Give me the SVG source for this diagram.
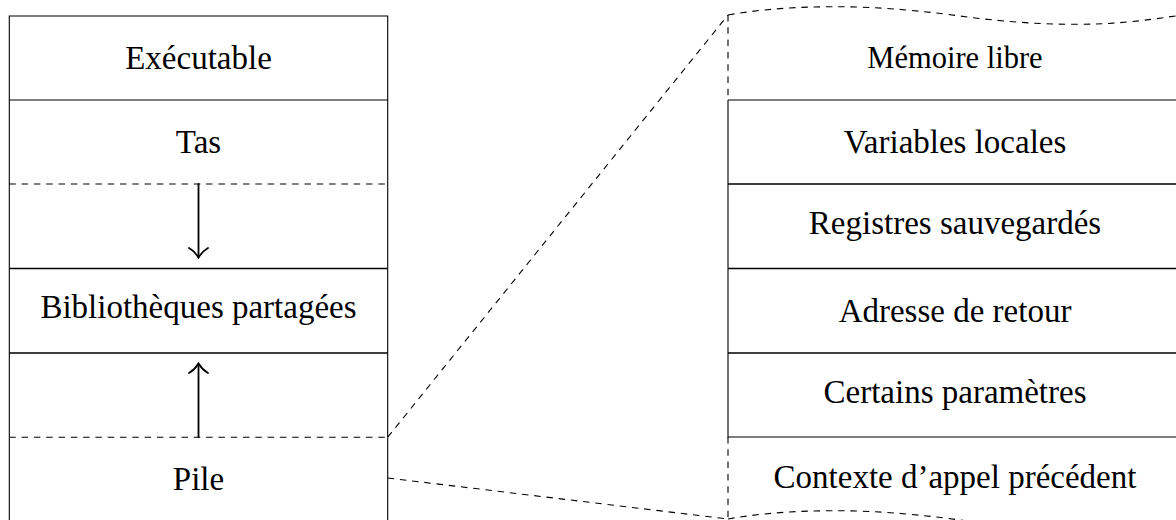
<svg xmlns="http://www.w3.org/2000/svg" width="1176" height="520" viewBox="0 0 1176 520">
<style>
.ln{stroke:#000;stroke-width:1.1;fill:none}
.th{stroke:#000;stroke-width:1.6;fill:none}
.da{stroke:#000;stroke-width:1.1;fill:none;stroke-dasharray:6.5 5.8}
.ar{stroke:#000;stroke-width:1.8;fill:none;stroke-linecap:round}
.t{font-family:"Liberation Serif","Times New Roman",serif;font-size:33px;fill:#000;text-anchor:middle}
.s{font-size:30.5px}
</style>
<rect width="1176" height="520" fill="#fff"/>
<g id="executable">
<path class="ln" d="M9.3,100 V16 H387.7 V100"/>
<text class="t" x="198.5" y="68.5">Exécutable</text>
</g>
<g id="tas">
<path class="ln" d="M9.3,100 H387.7 M9.3,100 V184 M387.7,100 V184"/>
<text class="t" x="198.5" y="152.8">Tas</text>
</g>
<g id="croissance-tas">
<path class="da" d="M9.3,184 H387.7"/>
<path class="ln" d="M9.3,184 V268.5 M387.7,184 V268.5"/>
</g>
<g id="bibliotheques">
<path class="th" d="M9.3,268.5 H387.7 M9.3,353 H387.7"/>
<path class="ln" d="M9.3,268.5 V353 M387.7,268.5 V353"/>
<text class="t" x="198.5" y="318.4">Bibliothèques partagées</text>
</g>
<g id="croissance-pile">
<path class="ln" d="M9.3,353 V437 M387.7,353 V437"/>
</g>
<g id="pile">
<path class="da" d="M9.3,437.2 H387.7"/>
<path class="ln" d="M9.3,437.2 V520 M387.7,437.2 V520"/>
<text class="t" x="198.5" y="490">Pile</text>
</g>
<g id="memoire-libre">
<path class="da" d="M728,15 C765,8.5 800,6.7 837,6.7 S915,10 956,15.5 S1035,24.3 1075,24.3 S1145,21 1194,13"/>
<path class="da" d="M728,15 V100"/>
<text class="t s" x="955" y="68.3">Mémoire libre</text>
</g>
<g id="variables-locales">
<path class="ln" d="M728,100 H1176 M728,100 V184"/>
<text class="t" x="955" y="153">Variables locales</text>
</g>
<g id="registres">
<path class="th" d="M728,184 H1176"/>
<path class="ln" d="M728,184 V268.5"/>
<text class="t" x="955" y="234">Registres sauvegardés</text>
</g>
<g id="adresse">
<path class="th" d="M728,268.5 H1176"/>
<path class="ln" d="M728,268.5 V353"/>
<text class="t" x="955" y="321.5">Adresse de retour</text>
</g>
<g id="parametres">
<path class="th" d="M728,353 H1176"/>
<path class="ln" d="M728,353 V437 H1176"/>
<text class="t" x="955" y="402.8">Certains paramètres</text>
</g>
<g id="contexte">
<path class="da" d="M728,437 V519"/>
<path class="da" d="M728,519 C765,512.5 800,510.7 837,510.7 S915,514 956,519.5 S1035,528.3 1075,528.3"/>
<text class="t" x="955" y="487.5">Contexte d’appel précédent</text>
</g>
<g id="connecteurs">
<path class="ar" d="M198.5,184 V257"/>
<path class="ar" d="M189,248 Q195,251.5 198.5,257.5 Q202,251.5 208,248"/>
<path class="ar" d="M198.5,437 V364"/>
<path class="ar" d="M189,373 Q195,369.5 198.5,363.5 Q202,369.5 208,373"/>
<path class="da" d="M387.7,437.2 L728,15"/>
<path class="da" d="M387.7,478 L728,519"/>
</g>
</svg>
